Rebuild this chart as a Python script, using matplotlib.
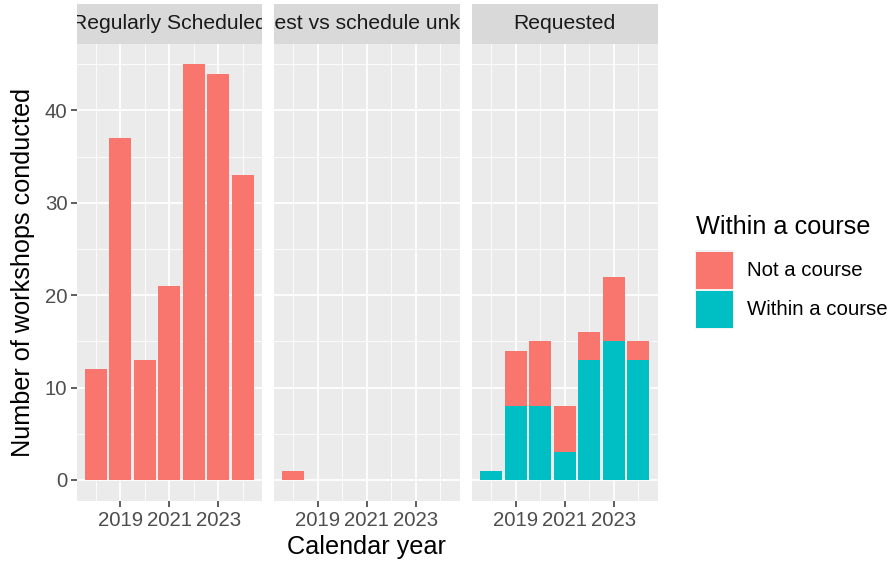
import matplotlib
matplotlib.use("Agg")
import matplotlib.pyplot as plt
from matplotlib.patches import Rectangle
import numpy as np

plt.rcParams['font.family'] = ['Liberation Sans', 'DejaVu Sans']

# ---- data ----
years = [2018, 2019, 2020, 2021, 2022, 2023, 2024]
regular_not = [12, 37, 13, 21, 45, 44, 33]
unknown_years = [2018]
unknown_not = [1]
requested_within = [1, 8, 8, 3, 13, 15, 13]
requested_not = [0, 6, 7, 5, 3, 7, 2]
facet_labels = ["Regularly Scheduled", "Request vs schedule unknown", "Requested"]
legend_labels = ["Not a course", "Within a course"]
x_ticks = [2019, 2021, 2023]
x_minor = [2018, 2020, 2022, 2024]
y_ticks = [0, 10, 20, 30, 40]
y_minor = [5, 15, 25, 35, 45]

RED = "#F8766D"
TEAL = "#00BFC4"
PANEL = "#EBEBEB"
STRIP = "#D9D9D9"

SMALL = 14.7
STRIP_FS = 15.2
BIG = 18.2

W, H = 896, 565
fig = plt.figure(figsize=(W / 100, H / 100), dpi=100)


def fx(px):
    return px / W


def fy(py):
    return 1 - py / H


panel_x = [(76.5, 262), (274, 459.5), (472, 657.5)]
ptop, pbot = 43.5, 500.7
stop = 4.0

xlim = (2017.205, 2024.795)
ylim = (-2.25, 47.25)

axes = []
for i, (x0, x1) in enumerate(panel_x):
    ax = fig.add_axes([fx(x0), fy(pbot), fx(x1) - fx(x0), fy(ptop) - fy(pbot)])
    ax.set_facecolor(PANEL)
    ax.set_xlim(*xlim)
    ax.set_ylim(*ylim)
    for s in ax.spines.values():
        s.set_visible(False)
    for v in x_minor:
        ax.axvline(v, color="white", lw=0.6, zorder=0.5)
    for v in y_minor:
        ax.axhline(v, color="white", lw=0.6, zorder=0.5)
    for v in x_ticks:
        ax.axvline(v, color="white", lw=1.25, zorder=0.6)
    for v in y_ticks:
        ax.axhline(v, color="white", lw=1.25, zorder=0.6)
    ax.set_xticks(x_ticks)
    ax.set_xticklabels([str(t) for t in x_ticks])
    ax.tick_params(axis="x", length=4, width=1.1, color="#333333",
                   labelcolor="#4D4D4D", labelsize=SMALL, pad=3.5)
    if i == 0:
        ax.set_yticks(y_ticks)
        ax.tick_params(axis="y", length=4, width=1.1, color="#333333",
                       labelcolor="#4D4D4D", labelsize=SMALL, pad=2.5)
    else:
        ax.set_yticks([])
    ax.set_axisbelow(True)

    # strip (text clipped to the strip, as in the reference)
    sax = fig.add_axes([fx(x0), fy(ptop), fx(x1) - fx(x0), fy(stop) - fy(ptop)])
    sax.set_facecolor(STRIP)
    for s in sax.spines.values():
        s.set_visible(False)
    sax.set_xticks([])
    sax.set_yticks([])
    sax.set_xlim(0, 1)
    sax.set_ylim(0, 1)
    sax.text(0.5, 0.5, facet_labels[i], ha="center", va="center",
             fontsize=STRIP_FS, color="#1A1A1A", clip_on=True)
    axes.append(ax)

# bars
axes[0].bar(years, regular_not, width=0.9, color=RED, zorder=2)
axes[1].bar(unknown_years, unknown_not, width=0.9, color=RED, zorder=2)
axes[2].bar(years, requested_within, width=0.9, color=TEAL, zorder=2)
axes[2].bar(years, requested_not, width=0.9, bottom=requested_within,
            color=RED, zorder=2)

# axis titles
fig.text(fx(366.75), fy(547), "Calendar year", ha="center", va="center",
         fontsize=BIG, color="black")
fig.text(fx(23), fy((ptop + pbot) / 2), "Number of workshops conducted",
         ha="center", va="center", rotation=90, fontsize=BIG, color="black")

# legend
fig.text(fx(695.5), fy(227), "Within a course", ha="left", va="center",
         fontsize=BIG, color="black")
key_tops = [250.5, 289.5]
for k, (lab, col) in enumerate(zip(legend_labels, [RED, TEAL])):
    t = key_tops[k]
    fig.add_artist(Rectangle((fx(694.5), fy(t + 39)), fx(39.5), fy(t) - fy(t + 39),
                             transform=fig.transFigure, facecolor="#F2F2F2",
                             edgecolor="none"))
    fig.add_artist(Rectangle((fx(695.5), fy(t + 38)), fx(37.5), fy(t + 1) - fy(t + 38),
                             transform=fig.transFigure, facecolor=col,
                             edgecolor="none"))
    fig.text(fx(747), fy(t + 20), lab, ha="left", va="center",
             fontsize=SMALL, color="black")

fig.savefig("out.png", dpi=100, facecolor="white")
